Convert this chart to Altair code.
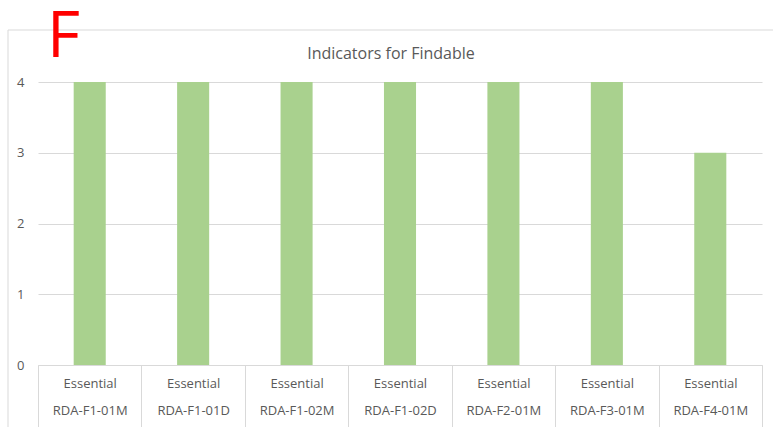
import altair as alt
import pandas as pd

# Indicator data
priorities = ["Essential"] * 7
codes = ["RDA-F1-01M", "RDA-F1-01D", "RDA-F1-02M", "RDA-F1-02D",
         "RDA-F2-01M", "RDA-F3-01M", "RDA-F4-01M"]
scores = [4, 4, 4, 4, 4, 4, 3]
y_ticks = [0, 1, 2, 3, 4]

labels = [p + "|" + c for p, c in zip(priorities, codes)]
df = pd.DataFrame({"label": labels, "score": scores})

GREY_TEXT = "#595959"
GRID = "#d9d9d9"
FONT = "Open Sans"

bars = alt.Chart(df).mark_bar(color="#a9d18e", width={"band": 0.31}).encode(
    x=alt.X(
        "label:N",
        sort=labels,
        scale=alt.Scale(paddingInner=0, paddingOuter=0),
        axis=alt.Axis(
            title=None,
            labelExpr="split(datum.label, '|')",
            labelAngle=0,
            labelFont=FONT,
            labelFontSize=13,
            labelColor=GREY_TEXT,
            labelLineHeight=27,
            labelBaseline="top",
            labelPadding=-50,
            tickBand="extent",
            tickSize=62,
            tickColor=GRID,
            domainColor=GRID,
            grid=False,
        ),
    ),
    y=alt.Y(
        "score:Q",
        scale=alt.Scale(domain=[0, 4], nice=False),
        axis=alt.Axis(
            title=None,
            values=y_ticks,
            format="d",
            domain=False,
            ticks=False,
            labelPadding=14,
            labelFont=FONT,
            labelFontSize=13,
            labelColor=GREY_TEXT,
            gridColor=GRID,
        ),
    ),
)

one = pd.DataFrame({"k": [0]})

# Chart-area frame (top and left edges)
frame_left = alt.Chart(one).mark_rule(color=GRID, strokeWidth=1).encode(
    x=alt.value(-30), y=alt.value(-52), y2=alt.value(345)
)
frame_top = alt.Chart(one).mark_rule(color=GRID, strokeWidth=1).encode(
    x=alt.value(-30), x2=alt.value(735), y=alt.value(-52)
)

title = alt.Chart(one).mark_text(
    text="Indicators for Findable", font=FONT, fontSize=16,
    color=GREY_TEXT, align="center", baseline="alphabetic",
).encode(x=alt.value(353), y=alt.value(-23))

panel_letter = alt.Chart(one).mark_text(
    text="F", font=FONT, fontSize=64, color="#ff0000",
    align="left", baseline="alphabetic",
).encode(x=alt.value(9), y=alt.value(-25))

chart = alt.layer(frame_left, frame_top, bars, title, panel_letter).properties(
    width=724,
    height=283,
    padding={"left": 38, "top": 82, "right": 11, "bottom": 62},
    autosize=alt.AutoSizeParams(type="none"),
    background="white",
).configure_view(stroke=None)

chart.save("out.html", embed_options={"renderer": "svg", "actions": False})
